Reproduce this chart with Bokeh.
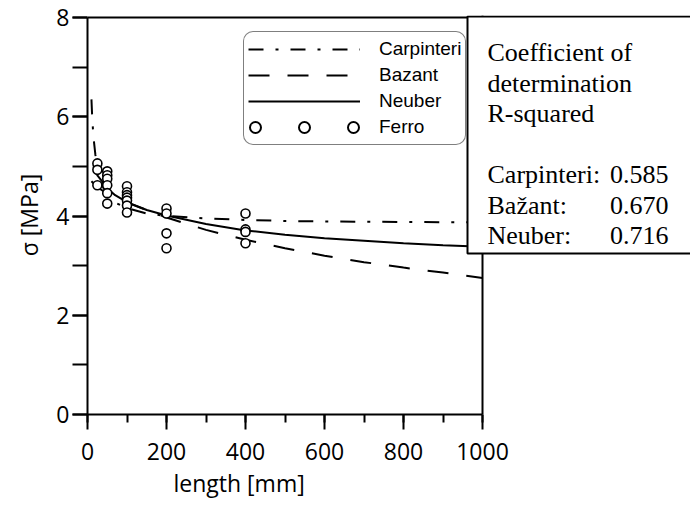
from bokeh.plotting import figure
from bokeh.models import (Range1d, SingleIntervalTicker, Legend, Title,
                          LegendItem, BoxAnnotation, Label, Span, ColumnDataSource)
from bokeh.embed import file_html
from bokeh.resources import INLINE

# ---------------- data ----------------
ferro_length = [25, 25, 25,
                50, 50, 50, 50, 50, 50,
                100, 100, 100, 100, 100, 100, 100,
                200, 200, 200, 200,
                400, 400, 400, 400]
ferro_sigma = [5.06, 4.93, 4.62,
               4.90, 4.82, 4.75, 4.62, 4.46, 4.25,
               4.60, 4.48, 4.42, 4.37, 4.31, 4.21, 4.07,
               4.15, 4.05, 3.65, 3.35,
               4.05, 3.73, 3.68, 3.45]

carp_length = [10, 12, 15, 20, 25, 30, 40, 50, 70, 100, 150, 200, 300, 400, 500, 600, 700, 800, 900, 1000]
carp_sigma = [6.35, 5.97, 5.60, 5.23, 4.98, 4.80, 4.57, 4.44, 4.27, 4.16, 4.05, 4.00, 3.95, 3.92, 3.90,
              3.89, 3.885, 3.88, 3.875, 3.87]

bazant_length = [10, 25, 50, 100, 150, 200, 300, 400, 500, 600, 700, 800, 900, 1000]
bazant_sigma = [4.70, 4.58, 4.45, 4.27, 4.12, 3.97, 3.72, 3.52, 3.35, 3.20, 3.07, 2.96, 2.86, 2.75]

neuber_length = [15, 20, 25, 35, 50, 70, 100, 150, 200, 300, 400, 500, 600, 700, 800, 900, 1000]
neuber_sigma = [5.00, 4.90, 4.82, 4.72, 4.56, 4.42, 4.28, 4.12, 4.01, 3.84, 3.71, 3.62, 3.55, 3.50,
                3.45, 3.41, 3.38]

series_names = ["Carpinteri", "Bazant", "Neuber", "Ferro"]
r2_header = ["Coefficient of", "determination", "R-squared"]
r2_models = ["Carpinteri:", "Bažant:", "Neuber:"]
r2_values = ["0.585", "0.670", "0.716"]

x_label = "length [mm]"
y_label = "σ [MPa]"

SANS = "Open Sans"
SERIF = "Liberation Serif"

# ---------------- geometry ----------------
LEFT, BOTTOM_PX = 87, 414          # frame left / y=0 position (pixels)
PX_X, PX_Y = 0.395, 49.625         # pixels per mm, pixels per MPa
FRAME_W, FRAME_H = 603, 399
XMAX, YMAX = FRAME_W / PX_X, FRAME_H / PX_Y


def dx(px):
    return (px - LEFT) / PX_X


def dy(py):
    return (BOTTOM_PX - py) / PX_Y


p = figure(frame_width=FRAME_W, frame_height=FRAME_H,
           x_range=Range1d(0, XMAX), y_range=Range1d(0, YMAX),
           min_border_left=LEFT, min_border_right=0, min_border_top=BOTTOM_PX - FRAME_H,
           min_border_bottom=88,
           output_backend="svg", toolbar_location=None)
p.grid.visible = False
p.outline_line_color = None
p.background_fill_color = "white"
p.border_fill_color = "white"

xax = p.xaxis[0]
yax = p.yaxis[0]
xax.ticker = SingleIntervalTicker(interval=200, num_minor_ticks=2)
yax.ticker = SingleIntervalTicker(interval=2, num_minor_ticks=2)
xax.bounds = (0, 1000)
yax.bounds = (0, 8)
for ax in (xax, yax):
    ax.axis_line_width = 2
    ax.axis_line_color = "black"
    ax.major_tick_line_width = 2
    ax.minor_tick_line_width = 2
    ax.major_tick_line_color = "black"
    ax.minor_tick_line_color = "black"
    ax.major_tick_in = 0
    ax.minor_tick_in = 0
    ax.major_tick_out = 15
    ax.major_label_text_font = SANS
    ax.major_label_text_font_size = "23px"
    ax.major_label_text_color = "black"
xax.minor_tick_out = 8
yax.minor_tick_out = 15
xax.major_label_standoff = 13
yax.major_label_standoff = 3

yax.axis_label = y_label
yax.axis_label_text_font = SANS
yax.axis_label_text_font_size = "23px"
yax.axis_label_text_font_style = "normal"
yax.axis_label_text_color = "black"
yax.axis_label_standoff = 8

# x title, placed left of centre as in the original
p.add_layout(Title(text=x_label, align="left", offset=86, standoff=5,
                   text_font=SANS, text_font_size="23px", text_font_style="normal",
                   text_color="black"), "below")

# frame lines (top and right of the plotting area)
p.add_layout(Span(location=8, dimension="width", line_color="black", line_width=2))
p.add_layout(Span(location=1000, dimension="height", line_color="black", line_width=2))

# ---------------- curves & points ----------------
r_c = p.line(carp_length, carp_sigma, line_color="black", line_width=2, line_dash="15 12 3 12")
r_b = p.line(bazant_length, bazant_sigma, line_color="black", line_width=2, line_dash="21 18")
r_n = p.line(neuber_length, neuber_sigma, line_color="black", line_width=2)
r_f = p.scatter(ferro_length, ferro_sigma, marker="circle", size=9, fill_color="white",
                line_color="black", line_width=1.6)

# legend sample for Ferro: three open circles (drawn by two dotted lines without visible data)
nan = float("nan")
ring_src = ColumnDataSource(data=dict(x=[nan], y=[nan]))
ring_o = p.line("x", "y", source=ring_src, line_color="black", line_width=13,
                line_dash="0 49", line_dash_offset=42, line_cap="round")
ring_i = p.line("x", "y", source=ring_src, line_color="white", line_width=9,
                line_dash="0 49", line_dash_offset=42, line_cap="round")

legend = Legend(items=[LegendItem(label=series_names[0], renderers=[r_c]),
                       LegendItem(label=series_names[1], renderers=[r_b]),
                       LegendItem(label=series_names[2], renderers=[r_n]),
                       LegendItem(label=series_names[3], renderers=[ring_o, ring_i])],
                location=(156, 269))
legend.margin = 0
legend.padding = 4
legend.spacing = 0
legend.glyph_width = 112
legend.glyph_height = 26
legend.label_height = 26
legend.label_standoff = 19
legend.label_text_font = "Liberation Sans"
legend.label_text_font_size = "19px"
legend.label_text_color = "black"
legend.border_line_color = "black"
legend.border_line_width = 1.5
legend.background_fill_color = "white"
legend.background_fill_alpha = 1
if "border_radius" in Legend.properties():
    legend.border_radius = 10
p.add_layout(legend)

# ---------------- R-squared box ----------------
p.add_layout(BoxAnnotation(left=dx(467), right=XMAX + 50, top=dy(16), bottom=dy(253),
                           fill_color="white", fill_alpha=1, line_color="black", line_alpha=1,
                           line_width=2, level="overlay"))
for txt, py in zip(r2_header, [52, 82.5, 113]):
    p.add_layout(Label(x=dx(487), y=dy(py), text=txt, text_align="left", text_baseline="alphabetic",
                       text_font=SERIF, text_font_size="26px", text_color="black", level="overlay"))
for name, val, py in zip(r2_models, r2_values, [174, 204.5, 235]):
    p.add_layout(Label(x=dx(487), y=dy(py), text=name, text_align="left", text_baseline="alphabetic",
                       text_font=SERIF, text_font_size="26px", text_color="black", level="overlay"))
    p.add_layout(Label(x=dx(668), y=dy(py), text=val, text_align="right", text_baseline="alphabetic",
                       text_font=SERIF, text_font_size="26px", text_color="black", level="overlay"))

open("out.html", "w").write(file_html(p, INLINE))
